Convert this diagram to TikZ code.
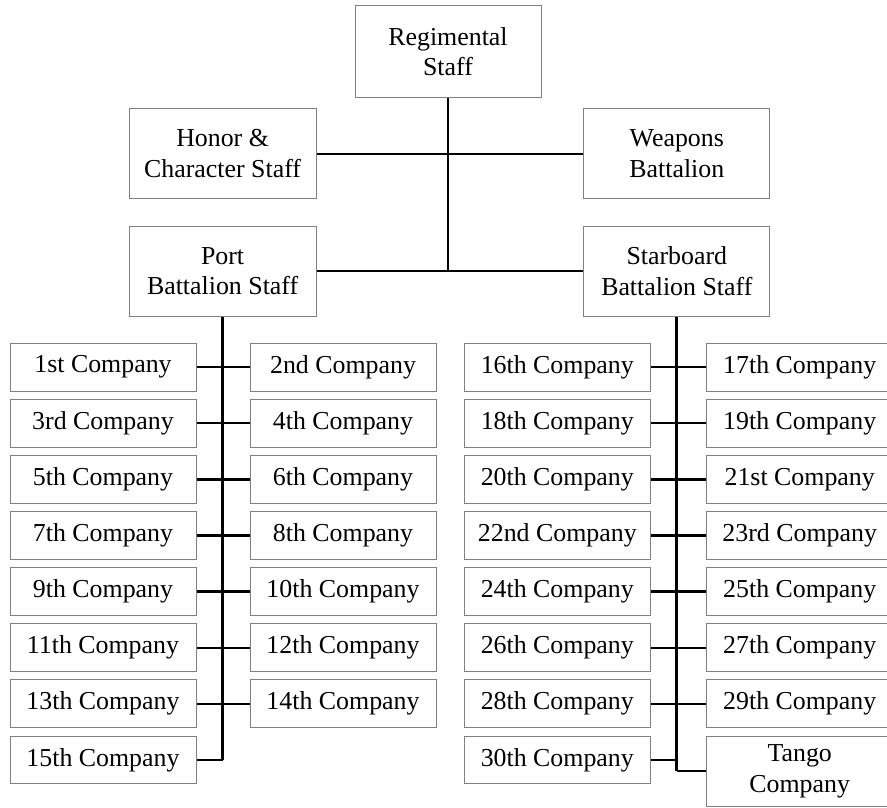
\documentclass[tikz,border=0pt]{standalone}
\usepackage{fontspec}
\setmainfont{Liberation Serif}
\definecolor{boxgray}{HTML}{808080}
\tikzset{
  box/.style={draw=boxgray, line width=0.75pt, fill=white, inner sep=0pt, align=center,
    font=\fontsize{19.4}{23}\selectfont, minimum width=139.5pt},
  cbox/.style={box, minimum height=35.8pt},
  tbox/.style={box, minimum height=67.5pt},
  link/.style={line width=1.7pt, draw=black},
  trunk/.style={line width=2.2pt, draw=black},
}
\begin{document}
\begin{tikzpicture}[x=0.75pt,y=-0.75pt]
\useasboundingbox (0,0) rectangle (887,807);
% top level
\node[box, minimum height=69pt] (reg) at (448,51.8) {Regimental\\Staff};
\node[tbox, minimum width=140.25pt] (honor) at (222.6,153.7) {Honor \&\\Character Staff};
\node[tbox] (weap) at (676.8,153.7) {Weapons\\Battalion};
\node[tbox, minimum width=140.25pt] (port) at (222.6,271.3) {Port\\Battalion Staff};
\node[tbox] (star) at (676.8,271.3) {Starboard\\Battalion Staff};
\coordinate (jn) at (reg.south |- port.east);
% companies
\foreach \i/\a/\b/\c/\d in {0/1st/2nd/16th/17th, 1/3rd/4th/18th/19th, 2/5th/6th/20th/21st,
  3/7th/8th/22nd/23rd, 4/9th/10th/24th/25th, 5/11th/12th/26th/27th, 6/13th/14th/28th/29th}{
  \pgfmathsetmacro\yy{367.2+56.1*\i}
  \node[cbox] (la\i) at (103,\yy) {\a\ Company};
  \node[cbox] (lb\i) at (343,\yy) {\b\ Company};
  \node[cbox] (ra\i) at (557.3,\yy) {\c\ Company};
  \node[cbox] (rb\i) at (799.7,\yy) {\d\ Company};
  \draw[link] (la\i.east) -- (lb\i.west);
  \draw[link] (ra\i.east) -- (rb\i.west);
}
\node[cbox] (la7) at (103,759.9) {15th Company};
\node[cbox] (ra7) at (557.3,759.9) {30th Company};
\node[box, minimum height=52.5pt] (tango) at (799.7,771) {Tango\\Company};
\coordinate (pb) at (port.south |- la7.east);
\coordinate (sb) at (star.south |- tango.west);
% connectors
\draw[trunk] (reg.south) -- (jn);
\draw[link] (honor.east) -- (weap.west);
\draw[link] (port.east) -- (star.west);
\draw[trunk] (port.south) -- (pb);
\draw[link] (pb) -- (la7.east);
\draw[trunk] (star.south) -- (sb);
\draw[link] (sb) -- (tango.west);
\draw[link] (ra7.east) -- (ra7.east -| star.south);
\end{tikzpicture}
\end{document}
